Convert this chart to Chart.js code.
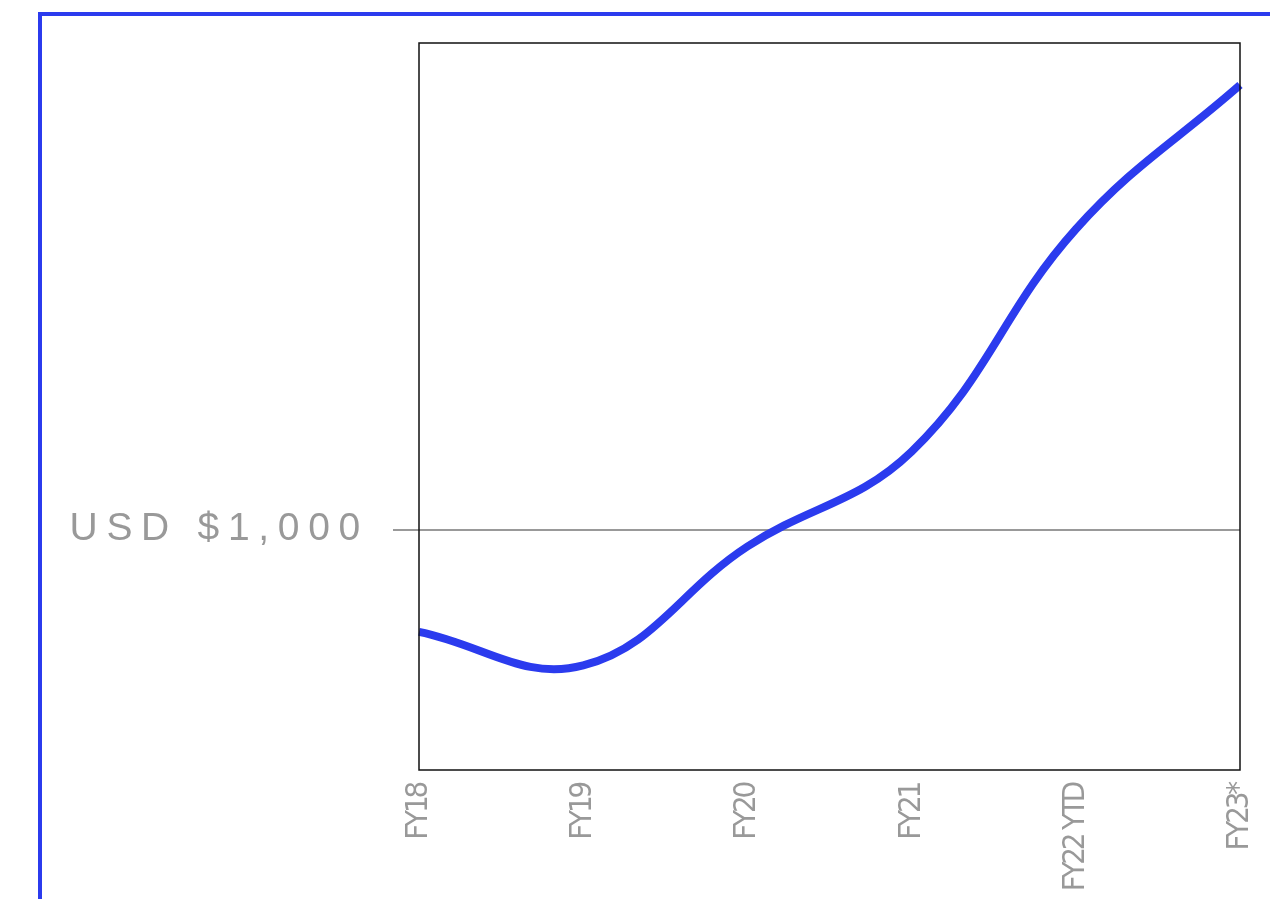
<!DOCTYPE html>
<html>
<head>
<meta charset="utf-8">
<script src="https://cdn.jsdelivr.net/npm/chart.js@4/dist/chart.umd.min.js"></script>
<style>
  html, body { margin: 0; padding: 0; background: #fff; }
  #wrap { position: relative; width: 1270px; height: 899px; overflow: hidden; }
  #frame {
    position: absolute; left: 38px; top: 12px; right: -10px; bottom: -10px;
    border-left: 4px solid #2b3bee; border-top: 4px solid #2b3bee;
  }
  #chart { position: absolute; left: 0; top: 0; }
</style>
</head>
<body>
<div id="wrap">
  <div id="frame"></div>
  <canvas id="chart" width="1270" height="899"></canvas>
</div>
<script>
// Fiscal years on the x axis
const years = ["FY18", "FY19", "FY20", "FY21", "FY22 YTD", "FY23*"];
// Value of the investment (USD)
const values = [915, 887, 986, 1065, 1250, 1370];
// Only one reference line is labelled
const yTicks = [1000];

// Box round the plot area, plus letter spacing for the two axes
const boxPlugin = {
  id: "box",
  beforeDraw(chart) {
    // wide tracking for the y label
    chart.ctx.letterSpacing = "8.7px";
  },
  afterDatasetsDraw(chart) {
    // tight tracking for the rotated year labels
    chart.ctx.letterSpacing = "-3.2px";
  },
  afterDraw(chart) {
    const { ctx, chartArea } = chart;
    ctx.save();
    ctx.strokeStyle = "#111";
    ctx.lineWidth = 1.5;
    ctx.strokeRect(chartArea.left, chartArea.top, chartArea.right - chartArea.left, chartArea.bottom - chartArea.top);
    ctx.restore();
  },
};

const ctx = document.getElementById("chart").getContext("2d");

new Chart(ctx, {
  type: "line",
  data: {
    labels: years,
    datasets: [
      {
        data: values,
        borderColor: "#2b3bee",
        borderWidth: 8,
        pointRadius: 0,
        tension: 0.4,
        fill: false,
        clip: false,
      },
    ],
  },
  options: {
    responsive: false,
    animation: false,
    layout: { padding: { top: 43, right: 30, left: 0, bottom: 0 } },
    plugins: { legend: { display: false }, tooltip: { enabled: false } },
    scales: {
      x: {
        offset: false,
        grid: { display: false },
        border: { display: false },
        ticks: {
          z: 1,
          autoSkip: false,
          minRotation: 90,
          maxRotation: 90,
          padding: 6,
          color: "#999",
          font: { family: "'Liberation Sans Narrow', 'DejaVu Sans Condensed', sans-serif", size: 31 },
        },
        afterFit(scale) {
          scale.height = 129;
          // let the plot run right to the edges
          scale.paddingLeft = 0;
          scale.paddingRight = 0;
        },
      },
      y: {
        min: 800,
        max: 1405,
        border: { display: false },
        grid: { color: "#999", lineWidth: 2, tickLength: 26, drawTicks: true },
        afterBuildTicks(scale) {
          scale.ticks = yTicks.map((v) => ({ value: v }));
        },
        ticks: {
          padding: 24,
          color: "#999",
          font: { family: "'Liberation Sans', Arial, sans-serif", size: 39 },
          callback: (v) => "USD $" + v.toLocaleString("en-US"),
        },
        afterFit(scale) {
          scale.width = 419;
          scale.paddingTop = 0;
          scale.paddingBottom = 0;
        },
      },
    },
  },
  plugins: [boxPlugin],
});
</script>
</body>
</html>
